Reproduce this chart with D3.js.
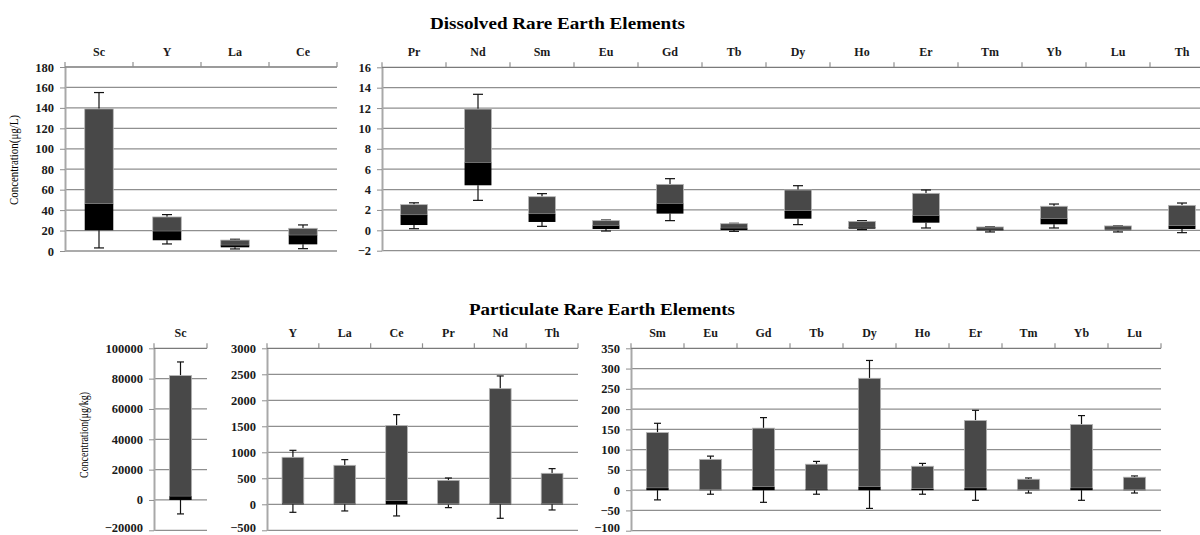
<!DOCTYPE html>
<html><head><meta charset="utf-8">
<script src="https://cdn.jsdelivr.net/npm/d3@7"></script>
<style>body{margin:0;background:#fff} svg{display:block}</style>
</head><body><svg id="c" width="1200" height="535"></svg>
<script>
// ---- Dissolved (µg/L), panel 1
const dA_cats = ["Sc","Y","La","Ce"];
const dA_min  = [3, 6.9, 2, 2.3];
const dA_q1   = [20.3, 10.5, 3.6, 6.5];
const dA_med  = [46, 19.3, 5.6, 15.4];
const dA_q3   = [139, 33.3, 10.7, 22.2];
const dA_max  = [155, 35.6, 11.5, 25.5];
const dA_ticks = [0,20,40,60,80,100,120,140,160,180];

// ---- Dissolved (µg/L), panel 2
const dB_cats = ["Pr","Nd","Sm","Eu","Gd","Tb","Dy","Ho","Er","Tm","Yb","Lu","Th"];
const dB_min  = [0.16, 2.94, 0.39, -0.07, 0.95, -0.1, 0.56, 0.07, 0.23, -0.16, 0.23, -0.16, -0.23];
const dB_q1   = [0.52, 4.42, 0.82, 0.13, 1.64, 0.03, 1.14, 0.16, 0.75, 0.0, 0.59, 0.0, 0.13];
const dB_med  = [1.5, 6.64, 1.6, 0.46, 2.62, 0.2, 1.9, 0.29, 1.44, 0.1, 1.14, 0.02, 0.43];
const dB_q3   = [2.52, 11.9, 3.3, 0.95, 4.51, 0.65, 3.96, 0.88, 3.63, 0.33, 2.36, 0.43, 2.45];
const dB_max  = [2.7, 13.35, 3.6, 1.01, 5.07, 0.69, 4.38, 0.95, 3.96, 0.36, 2.58, 0.45, 2.68];
const dB_ticks = [-2,0,2,4,6,8,10,12,14,16];

// ---- Particulate (µg/kg), panel 1
const pA_cats = ["Sc"];
const pA_min  = [-9200];
const pA_q1   = [0];
const pA_med  = [2400];
const pA_q3   = [82000];
const pA_max  = [91000];
const pA_ticks = [-20000,0,20000,40000,60000,80000,100000];

// ---- Particulate (µg/kg), panel 2
const pB_cats = ["Y","La","Ce","Pr","Nd","Th"];
const pB_min  = [-154, -128, -224, -64, -269, -109];
const pB_q1   = [0, 0, 0, 0, 0, 0];
const pB_med  = [15, 12, 64, 6, 12, 12];
const pB_q3   = [904, 750, 1513, 461, 2224, 596];
const pB_max  = [1038, 859, 1724, 506, 2468, 686];
const pB_ticks = [-500,0,500,1000,1500,2000,2500,3000];

// ---- Particulate (µg/kg), panel 3
const pC_cats = ["Sm","Eu","Gd","Tb","Dy","Ho","Er","Tm","Yb","Lu"];
const pC_min  = [-24, -10, -30, -10, -45, -10, -25, -7, -25, -7];
const pC_q1   = [0, 0, 0, 0, 0, 0, 0, 0, 0, 0];
const pC_med  = [5, 1, 8, 2, 8, 3, 5, 1, 5, 1];
const pC_q3   = [142, 76, 153, 64, 276, 59, 172, 27, 162, 32];
const pC_max  = [165, 84, 179, 71, 320, 66, 197, 30, 184, 35];
const pC_ticks = [-100,-50,0,50,100,150,200,250,300,350];

const svg = d3.select("#c");
const DARK = "#484848";

function panel(cfg){
  const {cats,mn,q1,md,q3,mx,ticks,x0,x1,yTop,yBot,cap} = cfg;
  const x = d3.scaleBand().domain(cats).range([x0,x1]).padding(0);
  const y = d3.scaleLinear().domain([d3.min(ticks), d3.max(ticks)]).range([yBot,yTop]);
  const g = svg.append("g");
  // gridlines
  g.selectAll("line.grid").data(ticks.slice(0,-1)).join("line")
    .attr("x1",x0).attr("x2",x1).attr("y1",d=>y(d)).attr("y2",d=>y(d))
    .attr("stroke","#8f8f8f").attr("stroke-width",1.3);
  // left axis
  const ya = g.append("g").attr("transform",`translate(${x0},0)`)
    .call(d3.axisLeft(y).tickValues(ticks).tickFormat(d3.format("d")).tickSize(5).tickPadding(6).tickSizeOuter(0));
  ya.attr("font-family","'Liberation Serif', serif");
  ya.select(".domain").attr("stroke","#a8a8a8").attr("stroke-width",2);
  ya.selectAll(".tick line").attr("stroke","#8f8f8f");
  ya.selectAll("text").attr("font-family","'Liberation Serif', serif").attr("font-weight","bold")
    .attr("font-size",12.5).attr("fill","#1a1a1a");
  if (yBot > 500) {
    ya.selectAll(".tick text").filter(d=>d===d3.min(ticks)).attr("dy","0.08em");
  }
  // top axis line + ticks between categories
  g.append("line").attr("x1",x0).attr("x2",x1).attr("y1",yTop).attr("y2",yTop)
    .attr("stroke","#7a7a7a").attr("stroke-width",1.3);
  const bounds = cats.map(c=>x(c)).concat([x1]);
  g.selectAll("line.ct").data(bounds).join("line")
    .attr("x1",d=>d).attr("x2",d=>d).attr("y1",yTop).attr("y2",yTop-5)
    .attr("stroke","#8f8f8f").attr("stroke-width",1.2);
  const xa = g.append("g").attr("transform",`translate(0,${yTop})`)
    .call(d3.axisTop(x).tickSize(0).tickPadding(11));
  xa.attr("font-family","'Liberation Serif', serif");
  xa.select(".domain").remove();
  xa.selectAll("text").attr("font-family","'Liberation Serif', serif").attr("font-weight","bold")
    .attr("font-size",12).attr("fill","#1a1a1a");
  // boxes
  const bw = x.bandwidth()*0.42;
  const cx = c => x(c)+x.bandwidth()/2;
  cats.forEach((c,i)=>{
    const wl = [[q3[i],mx[i]],[q1[i],mn[i]]];
    wl.forEach(([a,b])=>{
      g.append("line").attr("x1",cx(c)).attr("x2",cx(c)).attr("y1",y(a)).attr("y2",y(b))
        .attr("stroke","#111").attr("stroke-width",1.2);
      g.append("line").attr("x1",cx(c)-cap/2).attr("x2",cx(c)+cap/2).attr("y1",y(b)).attr("y2",y(b))
        .attr("stroke","#111").attr("stroke-width",1.2);
    });
    g.append("rect").attr("x",cx(c)-bw/2).attr("width",bw)
      .attr("y",y(q3[i])).attr("height",y(md[i])-y(q3[i]))
      .attr("fill",DARK).attr("stroke","#b5b5b5").attr("stroke-width",0.8);
    g.append("rect").attr("x",cx(c)-bw/2).attr("width",bw)
      .attr("y",y(md[i])).attr("height",Math.max(0,y(q1[i])-y(md[i])))
      .attr("fill","#000");
  });
}

panel({cats:dA_cats,mn:dA_min,q1:dA_q1,md:dA_med,q3:dA_q3,mx:dA_max,ticks:dA_ticks,
  x0:65,x1:337,yTop:67,yBot:251,cap:10});
panel({cats:dB_cats,mn:dB_min,q1:dB_q1,md:dB_med,q3:dB_q3,mx:dB_max,ticks:dB_ticks,
  x0:382,x1:1214,yTop:67.3,yBot:250.7,cap:10});
panel({cats:pA_cats,mn:pA_min,q1:pA_q1,md:pA_med,q3:pA_q3,mx:pA_max,ticks:pA_ticks,
  x0:154,x1:207,yTop:348.3,yBot:530.3,cap:7});
panel({cats:pB_cats,mn:pB_min,q1:pB_q1,md:pB_med,q3:pB_q3,mx:pB_max,ticks:pB_ticks,
  x0:267,x1:578,yTop:348.3,yBot:530.3,cap:7});
panel({cats:pC_cats,mn:pC_min,q1:pC_q1,md:pC_med,q3:pC_q3,mx:pC_max,ticks:pC_ticks,
  x0:631,x1:1161,yTop:348.3,yBot:530.7,cap:7});

// titles
svg.append("text").attr("x",557.5).attr("y",28.5).attr("text-anchor","middle")
  .attr("font-family","'Liberation Serif', serif").attr("font-weight","bold").attr("font-size",16.5)
  .attr("textLength",255).attr("lengthAdjust","spacingAndGlyphs")
  .text("Dissolved Rare Earth Elements");
svg.append("text").attr("x",602).attr("y",315).attr("text-anchor","middle")
  .attr("font-family","'Liberation Serif', serif").attr("font-weight","bold").attr("font-size",16.5)
  .attr("textLength",266).attr("lengthAdjust","spacingAndGlyphs")
  .text("Particulate Rare Earth Elements");
// y labels
svg.append("text").attr("transform","translate(18,160) rotate(-90)").attr("text-anchor","middle")
  .attr("font-family","'Liberation Serif', serif").attr("font-size",12.5)
  .attr("textLength",90).attr("lengthAdjust","spacingAndGlyphs")
  .text("Concentration(μg/L)");
svg.append("text").attr("transform","translate(88,435) rotate(-90)").attr("text-anchor","middle")
  .attr("font-family","'Liberation Serif', serif").attr("font-size",12.5)
  .attr("textLength",86).attr("lengthAdjust","spacingAndGlyphs")
  .text("Concentration(μg/kg)");
</script></body></html>
